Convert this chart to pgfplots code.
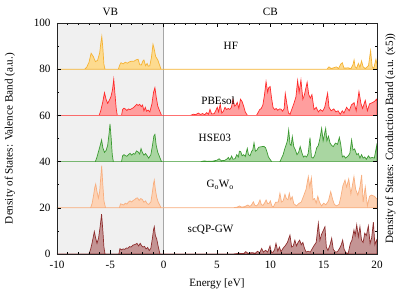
\documentclass[border=0pt]{standalone}
\usepackage{fontspec}
\setmainfont{Liberation Serif}
\usepackage{pgfplots}
\pgfplotsset{compat=1.18}
\usetikzlibrary{calc}
\definecolor{hfl}{HTML}{F5B335}\definecolor{hff}{HTML}{FDDB8F}
\definecolor{pbl}{HTML}{FF2A2A}\definecolor{pbf}{HTML}{FF9E9E}
\definecolor{hsl}{HTML}{3C9A32}\definecolor{hsf}{HTML}{A9D6A1}
\definecolor{gwl}{HTML}{F8AE7E}\definecolor{gwf}{HTML}{FDD2B4}
\definecolor{scl}{HTML}{8E2E2E}\definecolor{scf}{HTML}{C49494}
\definecolor{vbg}{HTML}{F0F0F0}
\begin{document}
\begin{tikzpicture}[font=\fontsize{11.2}{13}\selectfont]
\begin{axis}[
  width=320bp, height=231bp, scale only axis,
  xmin=-10, xmax=20, ymin=0, ymax=100,
  xtick={-10,-5,0,5,10,15,20}, minor x tick num=4,
  ytick={0,20,40,60,80,100}, minor y tick num=1,
  tick pos=both, xticklabel pos=bottom, yticklabel pos=left,
  tick style={black, line width=0.6pt},
  major tick length=4pt, minor tick length=2.5pt,
  axis line style={line width=0.9pt, black!85},
  /pgf/number format/assume math mode=true,
  xticklabel style={yshift=-4pt},
  yticklabel style={xshift=-3pt},
  clip mode=individual, axis on top,
]
\addplot[draw=none, fill=vbg] coordinates {(-10,0) (0,0) (0,100) (-10,100)} -- cycle;
\addplot[gray!70, line width=0.8pt] coordinates {(0,0) (0,100)};
% HF
\addplot[hfl, fill=hff, line width=0.7pt] coordinates {
(-10,80) (-7.4,80) (-7.2,81) (-7.0,83) (-6.8,86.9) (-6.6,85.5) (-6.4,83.3) (-6.2,83.8) (-6.0,87) (-5.9,91) (-5.8,94.2) (-5.7,89) (-5.6,82) (-5.5,80) (-4.25,80) (-4.1,82) (-4.0,82.8) (-3.8,82.3) (-3.6,83) (-3.4,82.6) (-3.2,83.2) (-3.0,83.5) (-2.8,83.4) (-2.6,84) (-2.4,84.3) (-2.25,82) (-2.1,81.8) (-1.95,83.5) (-1.85,84) (-1.7,81.5) (-1.55,82.5) (-1.45,81.3) (-1.3,81.5) (-1.15,85) (-1.0,90.8) (-0.9,89) (-0.75,85.5) (-0.55,84) (-0.4,82) (-0.25,80) (15.3,80) (15.5,81) (15.7,80.3) (16.2,81) (16.4,80.3) (16.6,82.2) (16.75,82.8) (16.9,80.5) (17.3,80.6) (17.55,80.2) (17.75,82) (17.85,84) (17.95,81) (18.1,80.5) (18.25,82.5) (18.4,80.8) (18.55,83.6) (18.7,81) (18.9,80.3) (19.2,81.5) (19.4,88) (19.55,81) (19.7,80.4) (19.9,84.3) (20,82) (20,80)
} -- cycle;
% PBEsol
\addplot[pbl, fill=pbf, line width=0.7pt] coordinates {
(-10,60) (-6.05,60) (-5.9,62) (-5.7,66) (-5.55,69.8) (-5.4,67) (-5.25,65.2) (-5.1,66.5) (-4.95,68) (-4.8,71) (-4.68,75.6) (-4.58,70) (-4.45,63) (-4.35,60) (-3.95,60) (-3.85,62.5) (-3.72,63.1) (-3.6,62.8) (-3.45,62.1) (-3.3,62.8) (-3.15,62.5) (-3.0,62.9) (-2.85,63.3) (-2.7,64) (-2.53,64.8) (-2.4,64.3) (-2.25,64.8) (-2.1,63.8) (-1.98,64.5) (-1.85,62) (-1.72,63.5) (-1.6,61.8) (-1.45,62.3) (-1.3,61.5) (-1.1,65) (-0.95,70) (-0.82,72) (-0.7,68) (-0.55,64) (-0.38,62) (-0.2,60) (2.5,60) (2.8,60.5) (3.0,60.3) (3.25,61) (3.45,60.4) (3.65,60.8) (3.85,60.3) (4.03,61.2) (4.2,60.5) (4.34,62.6) (4.5,60.6) (4.75,60.8) (5.03,63.5) (5.15,61.5) (5.3,64.8) (5.45,61) (5.6,61.8) (5.75,63.5) (5.9,62.5) (6.05,63) (6.2,62.6) (6.35,63.5) (6.5,67) (6.65,64) (6.78,64.5) (6.9,65.6) (7.05,63) (7.2,67) (7.35,66) (7.5,64) (7.65,61.5) (7.85,60) (8.7,60) (8.85,61.2) (9.0,62.5) (9.15,63) (9.3,64.5) (9.45,68.8) (9.6,74.6) (9.75,70) (9.85,72) (9.98,72.5) (10.1,68) (10.25,63.5) (10.4,62.5) (10.55,63) (10.7,62.2) (10.85,62.8) (11.0,62.7) (11.15,61.8) (11.3,63) (11.4,69.5) (11.55,65) (11.7,61) (11.85,60.5) (12.0,62.5) (12.2,65) (12.4,68) (12.56,75.1) (12.7,70) (12.87,75.3) (13.05,67) (13.2,69) (13.45,74.3) (13.6,69) (13.75,67.5) (13.9,69) (14.1,62.5) (14.3,63.5) (14.5,61.5) (14.7,62.5) (14.9,61.8) (15.1,63.5) (15.37,69.6) (15.5,63.5) (15.7,62) (15.95,62.8) (16.15,61.5) (16.35,62) (16.55,60.5) (16.75,62) (16.9,61) (17.15,63.5) (17.4,62) (17.6,64.5) (17.85,65.5) (18.05,62) (18.31,70.3) (18.5,65) (18.65,63) (18.9,66.5) (19.1,62) (19.3,65) (19.55,65.5) (19.75,66) (19.95,67) (20,66) (20,60)
} -- cycle;
% HSE03
\addplot[hsl, fill=hsf, line width=0.7pt] coordinates {
(-10,40) (-6.4,40) (-6.25,42) (-6.1,44.5) (-5.95,47) (-5.82,49.4) (-5.7,46) (-5.55,44) (-5.4,44.8) (-5.25,47) (-5.12,52) (-5.03,56.3) (-4.92,50) (-4.82,43) (-4.72,40) (-3.95,40) (-3.85,42.5) (-3.72,43) (-3.6,42.6) (-3.45,42.3) (-3.3,43) (-3.15,43.6) (-3.0,42.8) (-2.85,43.5) (-2.7,43.2) (-2.55,44.6) (-2.4,44.2) (-2.25,43.3) (-2.12,45.6) (-2.0,44) (-1.85,42.8) (-1.7,43.5) (-1.55,42.5) (-1.4,41.5) (-1.2,43) (-1.05,47) (-0.92,51) (-0.82,51.8) (-0.7,47) (-0.55,44) (-0.38,42) (-0.2,40) (3.5,40) (3.8,40.3) (4.1,40.1) (4.6,40.2) (5.0,40.6) (5.2,41.2) (5.4,40.4) (5.7,40.5) (5.9,41) (6.06,41.8) (6.2,40.8) (6.37,42.4) (6.5,41) (6.7,41.3) (6.85,43) (7.0,42) (7.1,44.5) (7.22,44.4) (7.35,42.5) (7.5,43) (7.65,42.2) (7.84,45.7) (7.95,43) (8.1,42.5) (8.25,44.5) (8.35,45) (8.47,48.1) (8.6,44.5) (8.75,45) (8.9,46.2) (9.1,46.4) (9.25,46.5) (9.4,46.6) (9.55,46) (9.7,44) (9.82,42) (10.0,40.8) (10.12,40) (10.9,40) (11.05,41.5) (11.2,43) (11.35,45.5) (11.5,47.5) (11.6,49) (11.72,53.7) (11.85,47.5) (11.95,47) (12.06,50.8) (12.2,46.5) (12.35,45) (12.5,43) (12.65,44) (12.8,46.5) (12.95,44) (13.1,42) (13.25,42.5) (13.4,42) (13.55,43.5) (13.72,50.4) (13.85,42) (14.0,41.5) (14.15,42.5) (14.35,46) (14.5,47) (14.65,50) (14.81,54.4) (14.95,49) (15.19,54.4) (15.3,49) (15.45,51) (15.6,48) (15.75,47) (15.9,46.5) (16.1,48) (16.3,47.5) (16.47,50.5) (16.6,47.5) (16.75,42) (16.9,42.5) (17.05,41.5) (17.3,42.5) (17.45,43.5) (17.62,49.4) (17.75,45) (17.9,45.5) (18.1,43) (18.25,43.5) (18.4,41.5) (18.55,43) (18.7,41.5) (18.85,42) (19.0,41) (19.2,42.5) (19.35,41.5) (19.55,41.8) (19.75,41.5) (19.97,47) (20,46) (20,40)
} -- cycle;
% G0W0
\addplot[gwl, fill=gwf, line width=0.7pt] coordinates {
(-10,20) (-6.85,20) (-6.7,22) (-6.55,26) (-6.45,29) (-6.37,30.3) (-6.25,27) (-6.12,24.2) (-6.0,27) (-5.9,33) (-5.81,38.2) (-5.72,31) (-5.6,23) (-5.45,20) (-4.15,20) (-4.05,21.7) (-3.9,21.5) (-3.75,21.2) (-3.6,22) (-3.45,21.6) (-3.3,22.5) (-3.15,23) (-3.0,22.5) (-2.85,23.2) (-2.7,23.6) (-2.6,24.1) (-2.45,24.3) (-2.3,23.2) (-2.15,24) (-2.0,23.6) (-1.85,22.4) (-1.7,23) (-1.55,21.8) (-1.4,21.5) (-1.2,22.5) (-1.05,27) (-0.95,30.5) (-0.88,32) (-0.78,28) (-0.65,24.5) (-0.5,22.3) (-0.35,21) (-0.25,20) (6.5,20) (6.9,20.3) (7.1,20.8) (7.3,20.3) (7.6,20.5) (7.9,21.2) (8.05,20.6) (8.2,21) (8.41,22.6) (8.55,21.1) (8.7,20.8) (8.85,21.5) (9.03,23.4) (9.15,21.5) (9.3,21) (9.45,22) (9.6,23.4) (9.75,21.8) (9.9,22) (10.0,23) (10.15,20.7) (10.3,20.5) (10.5,22.4) (10.75,22.5) (10.9,26.3) (11.05,22.5) (11.2,23) (11.37,25.8) (11.5,24) (11.65,23.5) (11.78,26.3) (11.9,23.5) (12.05,24.8) (12.2,21.8) (12.45,20.8) (12.65,21.8) (12.9,22.5) (13.15,25.5) (13.35,28) (13.56,33.5) (13.7,29) (13.85,33) (14.0,23.5) (14.15,24) (14.3,22) (14.45,25) (14.6,22.5) (14.8,20.8) (15.0,22) (15.2,21.3) (15.45,23) (15.66,27) (15.85,23.5) (16.0,21.5) (16.2,20.8) (16.45,21.5) (16.6,24.5) (16.8,29.5) (17.0,32) (17.15,29) (17.35,32.5) (17.55,26) (17.84,33.5) (18.0,28) (18.2,25.5) (18.4,29) (18.56,34.2) (18.7,22.5) (18.9,29) (19.1,20.8) (19.3,25) (19.5,25.5) (19.75,25) (19.95,24) (20,24) (20,20)
} -- cycle;
% scQP-GW
\addplot[scl, fill=scf, line width=0.7pt] coordinates {
(-10,0) (-7.0,0) (-6.85,2) (-6.7,5) (-6.5,9.7) (-6.38,7) (-6.25,4.6) (-6.1,7) (-5.95,12) (-5.82,17.2) (-5.7,10) (-5.6,3) (-5.5,0) (-4.2,0) (-4.1,2.3) (-3.95,1.8) (-3.8,2.2) (-3.65,2) (-3.5,2.6) (-3.35,2.5) (-3.2,3.2) (-3.05,3) (-2.9,3.8) (-2.75,4) (-2.6,4.3) (-2.5,4.6) (-2.35,3.5) (-2.2,4.6) (-2.05,3.5) (-1.95,3) (-1.8,3.3) (-1.65,2.2) (-1.5,2.8) (-1.35,1.5) (-1.2,2.5) (-1.05,7) (-0.95,10.5) (-0.88,11.8) (-0.78,8) (-0.65,6.5) (-0.5,3) (-0.35,0) (6.5,0) (7.1,0.3) (7.5,0.2) (7.7,1) (7.9,0.3) (8.3,0.6) (8.6,0.3) (8.8,1.2) (9.0,0.5) (9.19,2.4) (9.35,0.8) (9.55,1.6) (9.75,0.8) (9.97,3.5) (10.1,0.7) (10.25,0.8) (10.4,1.8) (10.53,4.6) (10.7,1.2) (10.85,3) (11.0,1) (11.2,2.5) (11.4,3.6) (11.6,5) (11.84,8.2) (12.0,3) (12.15,3.5) (12.3,6) (12.45,3.5) (12.6,5) (12.75,6) (12.9,4) (13.05,5) (13.2,2.5) (13.35,0.8) (13.55,1.2) (13.75,0.8) (13.95,2.5) (14.15,4) (14.3,5) (14.5,13.3) (14.65,6) (14.8,8.5) (14.95,10) (15.12,11.8) (15.25,3) (15.4,1.5) (15.6,4) (15.75,6.8) (15.9,2) (16.1,0.8) (16.3,1) (16.5,2.5) (16.65,4) (16.78,6) (16.92,2) (17.1,0.5) (17.3,0.3) (17.5,4.5) (17.65,6) (17.84,10.4) (17.95,8) (18.1,12.6) (18.25,7.5) (18.4,11.8) (18.55,6) (18.7,5) (18.85,9) (19.0,8) (19.19,12.1) (19.35,4.5) (19.5,7) (19.66,13.8) (19.8,4) (19.95,6) (20,5) (20,0)
} -- cycle;
\node at (axis cs:6.3,90) {HF};
\node at (axis cs:5.1,66.5) {PBEsol};
\node at (axis cs:4.8,50.5) {HSE03};
\node at (axis cs:5.3,30) {G\textsubscript{o}W\textsubscript{o}};
\node at (axis cs:4.4,10.5) {scQP-GW};
\coordinate (vb) at (axis cs:-5,100);
\coordinate (cb) at (axis cs:10,100);
\coordinate (rl) at (rel axis cs:1,0.5);
\coordinate (ll) at (rel axis cs:0,0.5);
\coordinate (bm) at (rel axis cs:0.5,0);
\coordinate (sw) at (rel axis cs:0,0);
\coordinate (ne) at (rel axis cs:1,1);
\end{axis}
\path (vb) ++(0,11.5bp) node {VB};
\path (cb) ++(0,11.5bp) node {CB};
\path (rl) ++(13.5bp,0) node[rotate=90] {Density of States: Conduction Band (a.u. (x5))};
\path (ll) ++(-47bp,0) node[rotate=90] {Density of States: Valence Band (a.u.)};
\path (bm) ++(0,-29.5bp) node {Energy [eV]};
\pgfresetboundingbox
\path[use as bounding box] ($(sw)+(-57bp,-37bp)$) rectangle ($(ne)+(38bp,23bp)$);
\end{tikzpicture}
\end{document}
